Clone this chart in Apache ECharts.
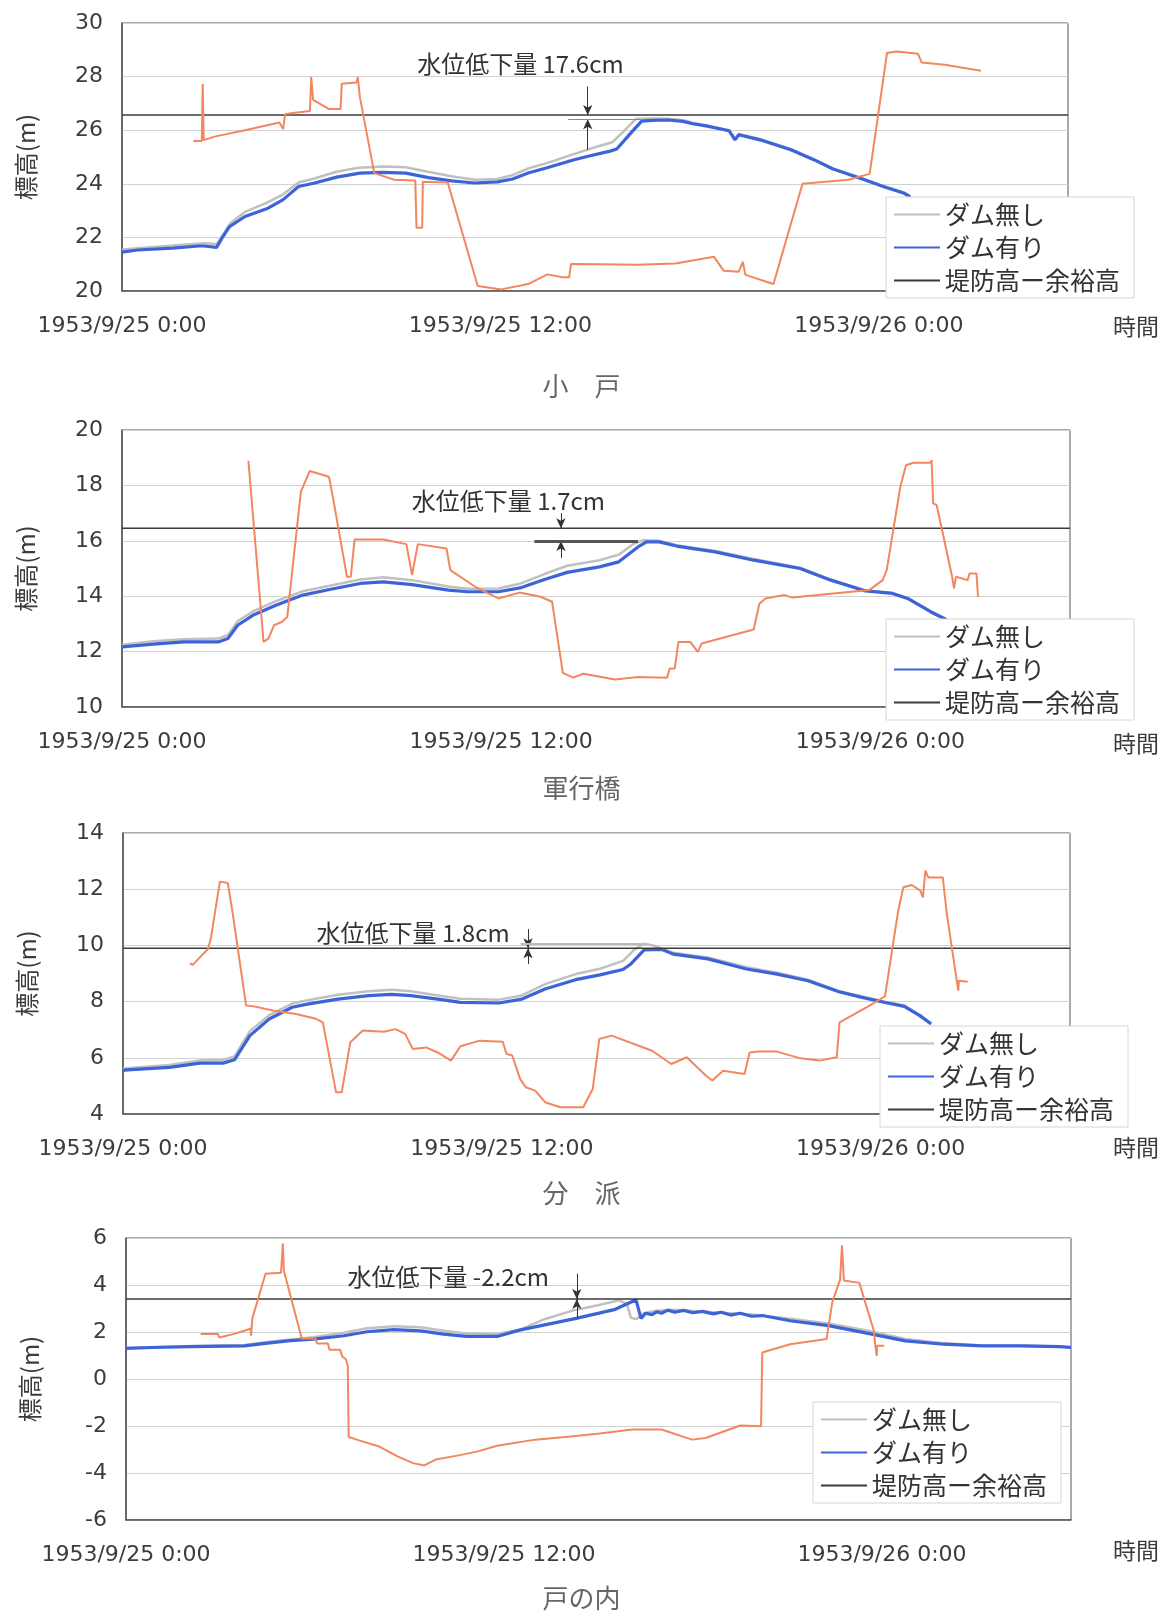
<!DOCTYPE html>
<html>
<head>
<meta charset="utf-8">
<script src="https://cdn.jsdelivr.net/npm/echarts@6/dist/echarts.min.js"></script>
<style>
  html, body { margin: 0; padding: 0; background: #fff; }
  #chart { width: 1163px; height: 1613px; }
</style>
</head>
<body>
<div id="chart"></div>
<script>
// Time axis: hours elapsed since 1953/9/25 0:00, labelled every 12 hours
const timeTickLabels = ['1953/9/25 0:00', '1953/9/25 12:00', '1953/9/26 0:00'];
const legendNames = ['ダム無し', 'ダム有り', '堤防高ー余裕高'];

// ---- 小戸 ----
const odoNoDam = [[0,21.55],[1.6,21.7],[2.6,21.78],[3.0,21.75],[3.2,22.1],[3.45,22.55],[3.9,22.95],[4.6,23.3],[5.1,23.6],[5.6,24.05],[6.1,24.2],[6.8,24.45],[7.5,24.6],[8.3,24.65],[9.0,24.62],[9.7,24.45],[10.45,24.28],[11.2,24.15],[11.9,24.18],[12.4,24.33],[12.9,24.58],[13.5,24.78],[14.3,25.1],[15.1,25.4],[15.55,25.55],[15.9,25.95],[16.3,26.42],[16.8,26.44],[17.3,26.43],[17.8,26.37],[18.1,26.28],[18.5,26.19],[19.25,26.0],[19.44,25.68],[19.56,25.86],[20.2,25.68],[21.2,25.3],[21.9,24.93],[22.5,24.58],[23.4,24.24],[24.1,23.93],[24.8,23.68],[25.0,23.53]];
const odoWithDam = [[0,21.45],[0.5,21.53],[1.6,21.6],[2.44,21.68],[2.6,21.68],[3.0,21.63],[3.17,21.97],[3.41,22.4],[3.9,22.78],[4.63,23.09],[5.1,23.4],[5.6,23.9],[6.08,24.02],[6.81,24.25],[7.54,24.4],[8.27,24.43],[9.0,24.4],[9.72,24.23],[10.45,24.11],[11.18,24.03],[11.91,24.07],[12.39,24.18],[12.88,24.4],[13.48,24.6],[14.34,24.9],[14.75,25.02],[15.48,25.22],[15.69,25.3],[16.14,25.9],[16.48,26.34],[16.81,26.37],[17.31,26.38],[17.79,26.33],[18.1,26.24],[18.52,26.16],[19.25,25.98],[19.44,25.64],[19.56,25.83],[20.23,25.64],[21.21,25.27],[21.94,24.9],[22.55,24.55],[23.41,24.21],[24.14,23.9],[24.8,23.65],[25.0,23.5]];
const odoAux = [[2.26,25.6],[2.53,25.6],[2.56,27.73],[2.59,25.63],[2.93,25.76],[3.9,26.0],[4.99,26.29],[5.11,26.04],[5.17,26.6],[5.36,26.63],[5.96,26.72],[6.0,27.98],[6.06,27.13],[6.57,26.79],[6.93,26.79],[6.97,27.73],[7.44,27.78],[7.48,27.98],[7.54,27.26],[8.0,24.4],[8.63,24.15],[9.3,24.12],[9.34,22.36],[9.52,22.36],[9.54,24.08],[10.33,24.05],[11.28,20.19],[12.03,20.06],[12.88,20.26],[13.49,20.62],[13.97,20.51],[14.18,20.51],[14.24,21.01],[15.16,21.0],[16.33,20.98],[17.55,21.03],[18.77,21.28],[19.08,20.76],[19.56,20.72],[19.69,21.09],[19.77,20.6],[20.66,20.26],[21.58,24.0],[23.04,24.15],[23.71,24.37],[24.26,28.88],[24.56,28.94],[25.24,28.85],[25.36,28.53],[26.09,28.44],[27.24,28.22]];
const odoLevee = 26.57;
const odoNote = { text: '水位低下量 17.6cm', textAt: [9.36, 28.48], arrowAt: 14.77, downFrom: 27.63, upFrom: 25.27, upTo: 26.41, bar: [14.15, 16.45, 26.41] };

// ---- 軍行橋 ----
const gunNoDam = [[0,12.25],[0.99,12.37],[1.96,12.45],[3.05,12.47],[3.35,12.6],[3.66,13.1],[4.14,13.45],[4.87,13.82],[5.72,14.18],[6.57,14.38],[7.54,14.6],[8.27,14.68],[9.18,14.58],[10.33,14.35],[10.94,14.27],[11.91,14.28],[12.64,14.47],[13.37,14.8],[14.09,15.1],[15.11,15.3],[15.72,15.5],[16.2,15.9],[16.5,16.02],[17.0,16.0],[17.55,15.84],[18.77,15.63],[19.99,15.34],[21.46,15.03],[22.43,14.6],[23.53,14.21],[24.38,14.12],[24.86,13.94],[25.6,13.45],[26.09,13.17]];
const gunWithDam = [[0,12.17],[0.99,12.27],[1.96,12.35],[3.05,12.35],[3.35,12.47],[3.66,12.95],[4.14,13.31],[4.87,13.67],[5.72,14.04],[6.57,14.24],[7.54,14.46],[8.27,14.52],[9.18,14.42],[10.33,14.22],[10.94,14.16],[11.91,14.16],[12.64,14.31],[13.37,14.6],[14.09,14.86],[15.11,15.06],[15.72,15.24],[16.33,15.78],[16.6,15.96],[17.0,15.96],[17.55,15.81],[18.77,15.6],[19.99,15.3],[21.46,15.0],[22.43,14.58],[23.53,14.19],[24.38,14.1],[24.86,13.92],[25.6,13.43],[26.09,13.15]];
const gunAux = [[4.0,18.89],[4.48,12.35],[4.63,12.47],[4.81,12.95],[5.05,13.07],[5.23,13.25],[5.66,17.77],[5.94,18.52],[6.55,18.31],[6.69,17.47],[7.12,14.7],[7.24,14.7],[7.36,16.05],[8.27,16.05],[9.0,15.88],[9.18,14.76],[9.36,15.88],[10.27,15.72],[10.39,14.94],[11.18,14.34],[11.91,13.92],[12.58,14.13],[13.25,13.98],[13.61,13.8],[13.95,11.23],[14.28,11.06],[14.6,11.2],[15.6,10.99],[16.33,11.08],[17.25,11.06],[17.33,11.39],[17.49,11.39],[17.61,12.35],[17.98,12.35],[18.22,11.99],[18.34,12.29],[19.99,12.8],[20.17,13.73],[20.36,13.92],[20.96,14.04],[21.21,13.95],[23.65,14.22],[24.07,14.58],[24.2,14.94],[24.63,17.95],[24.81,18.73],[25.05,18.82],[25.6,18.82],[25.62,18.92],[25.67,17.35],[25.78,17.29],[26.27,14.7],[26.33,14.28],[26.39,14.7],[26.76,14.58],[26.82,14.82],[27.04,14.82],[27.09,13.98]];
const gunLevee = 16.45;
const gunNote = { text: '水位低下量 1.7cm', textAt: [9.17, 17.44], arrowAt: 13.89, downFrom: 17.0, upFrom: 15.38, upTo: 15.99, bar: [13.05, 16.33, 15.99] };

// ---- 分派 ----
const bunNoDam = [[0,5.62],[1.47,5.74],[2.44,5.9],[3.17,5.92],[3.53,6.05],[4.02,6.95],[4.63,7.52],[5.36,7.93],[5.84,8.05],[6.81,8.24],[7.78,8.37],[8.51,8.42],[9.12,8.37],[10.09,8.2],[10.69,8.1],[11.91,8.07],[12.64,8.22],[13.37,8.62],[14.34,8.98],[15.11,9.17],[15.84,9.45],[16.2,9.85],[16.5,10.06],[16.8,10.0],[17.06,9.88],[17.43,9.74],[18.53,9.57],[19.75,9.22],[20.72,9.03],[21.7,8.78],[22.68,8.38],[23.41,8.18],[24.14,8.0],[24.75,7.86],[25.24,7.53],[25.6,7.23]];
const bunWithDam = [[0,5.55],[0.14,5.57],[1.47,5.66],[2.44,5.81],[3.17,5.81],[3.53,5.93],[4.02,6.79],[4.63,7.38],[5.36,7.8],[5.84,7.91],[6.81,8.09],[7.78,8.21],[8.51,8.26],[9.12,8.21],[10.09,8.07],[10.69,7.97],[11.91,7.95],[12.64,8.09],[13.37,8.45],[14.34,8.78],[15.11,8.95],[15.84,9.14],[16.09,9.34],[16.51,9.84],[17.06,9.86],[17.43,9.69],[18.53,9.52],[19.75,9.16],[20.72,8.98],[21.7,8.74],[22.68,8.35],[23.41,8.15],[24.14,7.97],[24.75,7.83],[25.24,7.5],[25.6,7.2]];
const bunAux = [[2.12,9.37],[2.2,9.3],[2.69,9.87],[2.78,10.23],[3.07,12.27],[3.32,12.22],[3.47,11.18],[3.9,7.86],[4.14,7.83],[4.75,7.68],[5.48,7.56],[6.08,7.4],[6.33,7.26],[6.75,4.77],[6.93,4.77],[7.2,6.55],[7.6,6.97],[8.27,6.93],[8.63,7.02],[8.94,6.85],[9.18,6.31],[9.6,6.37],[9.97,6.19],[10.39,5.9],[10.69,6.41],[11.3,6.61],[12.03,6.57],[12.15,6.14],[12.33,6.08],[12.58,5.25],[12.76,4.95],[13.06,4.83],[13.37,4.42],[13.85,4.24],[14.58,4.24],[14.88,4.89],[15.09,6.67],[15.48,6.79],[16.76,6.25],[17.37,5.78],[17.86,6.02],[18.47,5.36],[18.67,5.19],[19.01,5.54],[19.69,5.42],[19.85,6.19],[20.11,6.22],[20.72,6.22],[21.46,5.98],[22.06,5.9],[22.61,6.02],[22.7,7.26],[23.65,7.86],[24.14,8.19],[24.5,10.82],[24.56,11.24],[24.72,12.07],[24.99,12.15],[25.26,11.95],[25.34,11.71],[25.42,12.66],[25.51,12.42],[25.97,12.42],[26.09,11.18],[26.46,8.39],[26.48,8.74],[26.76,8.71]];
const bunLevee = 9.9;
const bunNote = { text: '水位低下量 1.8cm', textAt: [6.13, 10.44], arrowAt: 12.83, downFrom: 10.58, upFrom: 9.34, upTo: 9.9, bar: [12.6, 16.46, 10.07] };

// ---- 戸の内 ----
const tonNoDam = [[0,1.32],[2.07,1.4],[3.76,1.45],[4.49,1.58],[5.22,1.68],[5.95,1.78],[6.92,1.97],[7.65,2.16],[8.5,2.24],[9.35,2.2],[10.08,2.05],[10.81,1.94],[11.78,1.93],[12.51,2.1],[13.23,2.52],[14.2,2.92],[14.98,3.14],[15.66,3.35],[15.9,3.2],[16.03,2.6],[16.2,2.55],[16.44,2.8],[16.81,2.9],[17.42,2.95],[18.64,2.84],[19.86,2.74],[21.08,2.56],[22.3,2.36],[23.52,2.06],[24.74,1.7],[25.96,1.52],[27.18,1.43],[28.4,1.42],[29.62,1.39],[30,1.36]];
const tonWithDam = [[0,1.3],[0.85,1.34],[2.07,1.38],[3.76,1.41],[4.49,1.53],[5.22,1.63],[5.95,1.7],[6.92,1.84],[7.65,2.01],[8.5,2.1],[9.35,2.05],[10.08,1.91],[10.81,1.81],[11.78,1.81],[12.49,2.08],[14.29,2.58],[15.5,2.95],[16.19,3.37],[16.35,2.58],[16.5,2.8],[16.7,2.74],[16.85,2.86],[17.0,2.8],[17.2,2.93],[17.42,2.84],[17.7,2.92],[18.0,2.82],[18.3,2.88],[18.64,2.77],[18.9,2.84],[19.2,2.72],[19.5,2.8],[19.86,2.67],[20.2,2.7],[21.08,2.48],[22.3,2.27],[23.52,1.95],[24.74,1.62],[25.96,1.48],[27.18,1.41],[28.4,1.41],[29.62,1.38],[30,1.34]];
const tonAux = [[2.37,1.91],[2.91,1.91],[2.97,1.77],[3.4,1.91],[3.76,2.05],[3.95,2.15],[3.97,1.84],[4.01,2.58],[4.43,4.48],[4.92,4.52],[4.98,5.76],[5.01,4.62],[5.58,1.72],[6.01,1.72],[6.07,1.51],[6.41,1.51],[6.46,1.24],[6.8,1.24],[6.86,0.96],[6.98,0.84],[7.04,0.56],[7.07,-2.47],[7.4,-2.61],[8.01,-2.86],[8.62,-3.29],[9.11,-3.58],[9.47,-3.68],[9.83,-3.43],[10.56,-3.25],[11.17,-3.08],[11.78,-2.84],[12.99,-2.58],[14.2,-2.44],[15.03,-2.32],[16.08,-2.15],[17.0,-2.15],[17.97,-2.58],[18.4,-2.51],[19.5,-1.98],[20.16,-2.01],[20.2,1.13],[21.08,1.48],[22.24,1.7],[22.42,3.26],[22.67,4.23],[22.73,5.69],[22.79,4.19],[23.28,4.09],[23.74,2.05],[23.79,1.41],[23.83,0.98],[23.84,1.41],[24.07,1.41]];
const tonLevee = 3.4;
const tonNote = { text: '水位低下量 -2.2cm', textAt: [7.03, 4.33], arrowAt: 14.31, downFrom: 4.48, upFrom: 2.58, upTo: 3.4, bar: null };

// Panel layout (pixels) and per-station settings
const panels = [
  { title: '小　戸', titleTop: 368, unitTop: 310, yMin: 20, yMax: 30, noDam: odoNoDam, withDam: odoWithDam, aux: odoAux, levee: odoLevee, note: odoNote,
    grid: { left: 122, top: 23, width: 946, height: 268 }, legend: { left: 886, top: 197 }, barStyle: { color: '#888', width: 1 } },
  { title: '軍行橋', titleTop: 770, unitTop: 727, yMin: 10, yMax: 20, noDam: gunNoDam, withDam: gunWithDam, aux: gunAux, levee: gunLevee, note: gunNote,
    grid: { left: 122, top: 430, width: 948, height: 277 }, legend: { left: 886, top: 619 }, barStyle: { color: '#555', width: 3 } },
  { title: '分　派', titleTop: 1175, unitTop: 1131, yMin: 4, yMax: 14, noDam: bunNoDam, withDam: bunWithDam, aux: bunAux, levee: bunLevee, note: bunNote,
    grid: { left: 123, top: 833, width: 947, height: 281 }, legend: { left: 880, top: 1026 }, barStyle: { color: '#bbb', width: 2 } },
  { title: '戸の内', titleTop: 1580, unitTop: 1534, yMin: -6, yMax: 6, noDam: tonNoDam, withDam: tonWithDam, aux: tonAux, levee: tonLevee, note: tonNote,
    grid: { left: 126, top: 1238, width: 945, height: 282 }, legend: { left: 813, top: 1402 }, barStyle: null }
];

const FONT = "'Noto Sans CJK JP', 'Noto Sans', sans-serif";
const NUM_FONT = "'DejaVu Sans', sans-serif";
const grids = [], xAxes = [], yAxes = [], series = [], legends = [], titles = [];

panels.forEach((p, i) => {
  grids.push(Object.assign({ show: true, borderColor: '#555', borderWidth: 1, backgroundColor: '#fff' }, p.grid));

  titles.push({ text: p.title, left: 'center', top: p.titleTop,
    textStyle: { fontSize: 26, fontWeight: 'normal', color: '#666', fontFamily: FONT } });
  // time-axis caption at the end of the tick-label row
  titles.push({ text: '時間', left: 1108, top: p.unitTop,
    textStyle: { fontSize: 23, fontWeight: 'normal', color: '#3c3c3c', fontFamily: FONT } });

  xAxes.push({
    type: 'value', gridIndex: i, min: 0, max: 30, interval: 12,
    axisLine: { show: true, onZero: false, lineStyle: { color: '#555', width: 1.5 } },
    axisTick: { show: false },
    splitLine: { show: false },
    axisLabel: { margin: 24, fontSize: 22, color: '#3c3c3c', fontFamily: NUM_FONT,
      formatter: v => (v % 12 === 0 ? timeTickLabels[v / 12] : '') }
  });

  yAxes.push({
    type: 'value', gridIndex: i, min: p.yMin, max: p.yMax, interval: 2,
    name: '標高(m)', nameLocation: 'middle', nameGap: 84, nameRotate: 90,
    nameTextStyle: { fontSize: 24, color: '#3c3c3c' },
    axisLine: { show: true, lineStyle: { color: '#555', width: 1.5 } },
    axisTick: { show: false },
    splitLine: { show: true, lineStyle: { color: '#d2d2d2', width: 1 } },
    axisLabel: { margin: 19, fontSize: 22, color: '#3c3c3c', fontFamily: NUM_FONT }
  });

  const n = p.note;
  const arrowLines = [
    [{ coord: [n.arrowAt, n.downFrom], symbol: 'none' }, { coord: [n.arrowAt, p.levee], symbol: 'arrow' }],
    [{ coord: [n.arrowAt, n.upFrom], symbol: 'none' }, { coord: [n.arrowAt, n.upTo], symbol: 'arrow' }]
  ];
  if (n.bar) {
    arrowLines.push([
      { coord: [n.bar[0], n.bar[2]], symbol: 'none', lineStyle: { color: p.barStyle.color, width: p.barStyle.width, type: 'solid' } },
      { coord: [n.bar[1], n.bar[2]], symbol: 'none' }
    ]);
  }

  series.push({
    name: 'ダム無し', type: 'line', xAxisIndex: i, yAxisIndex: i, data: p.noDam,
    symbol: 'none', z: 2, lineStyle: { color: '#c0c0c0', width: 2.5 }, itemStyle: { color: '#c0c0c0' }
  });
  series.push({
    name: 'ダム有り', type: 'line', xAxisIndex: i, yAxisIndex: i, data: p.withDam,
    symbol: 'none', z: 3, lineStyle: { color: '#3d63d8', width: 3.2 }, itemStyle: { color: '#3d63d8' }
  });
  series.push({
    name: '堤防高ー余裕高', type: 'line', xAxisIndex: i, yAxisIndex: i,
    data: [[0, p.levee], [30, p.levee]],
    symbol: 'none', z: 3, lineStyle: { color: '#3a3a3a', width: 1.5 }, itemStyle: { color: '#3a3a3a' },
    markLine: {
      silent: true, symbolSize: [7, 10], label: { show: false },
      lineStyle: { color: '#333', width: 1, type: 'solid' },
      data: arrowLines
    },
    markPoint: {
      silent: true,
      data: [{ coord: n.textAt, symbol: 'circle', symbolSize: 0,
        label: { show: true, position: 'right', distance: 0, formatter: n.text, fontSize: 24, color: '#333', fontFamily: FONT } }]
    }
  });
  series.push({
    name: 'aux', type: 'line', xAxisIndex: i, yAxisIndex: i, data: p.aux,
    symbol: 'none', z: 3, lineStyle: { color: '#f4865f', width: 2 }, itemStyle: { color: '#f4865f' }
  });

  legends.push({
    orient: 'vertical', left: p.legend.left, top: p.legend.top, z: 10,
    data: legendNames, selectedMode: false,
    itemWidth: 46, itemHeight: 14, itemGap: 8,
    padding: [5, 14, 5, 7],
    itemStyle: { opacity: 0 },
    backgroundColor: '#fff', borderColor: '#d6d6d6', borderWidth: 1,
    textStyle: { fontSize: 25, color: '#333', fontFamily: FONT }
  });
});

const chart = echarts.init(document.getElementById('chart'), null, { renderer: 'canvas' });
chart.setOption({
  backgroundColor: '#fff',
  animation: false,
  textStyle: { fontFamily: FONT },
  title: titles,
  grid: grids,
  xAxis: xAxes,
  yAxis: yAxes,
  legend: legends,
  series: series
});
</script>
</body>
</html>
